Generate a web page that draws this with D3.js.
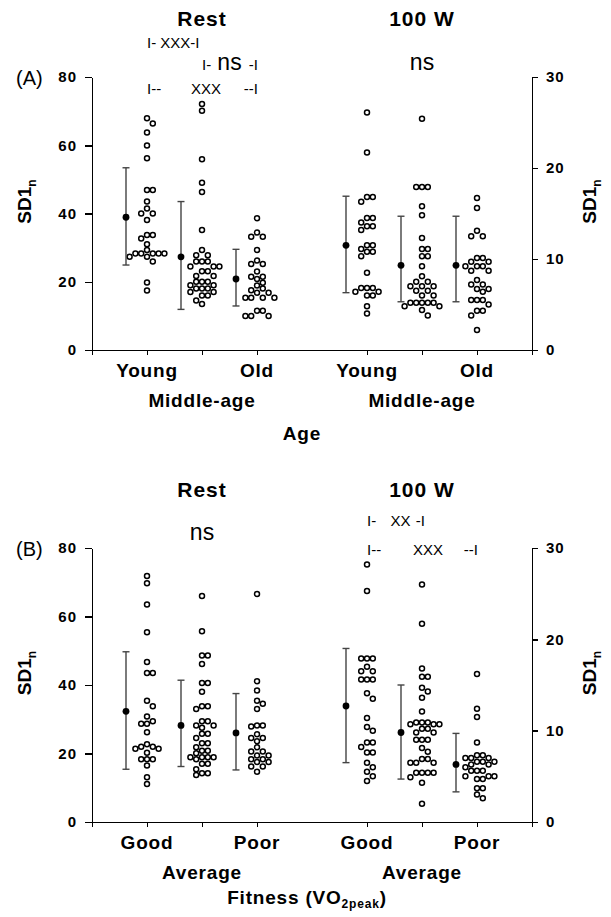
<!DOCTYPE html>
<html lang="en">
<head>
<meta charset="UTF-8">
<title>SD1n by age and fitness</title>
<style>
  body { margin: 0; background: #fff; }
  svg { display: block; font-family: "Liberation Sans", Arial, sans-serif; }
  .axis path, .axis line { stroke: #000; stroke-width: 1.5px; shape-rendering: crispEdges; }
  .axis text { font-family: "Liberation Sans", Arial, sans-serif; font-weight: bold; font-size: 15px; fill: #000; letter-spacing: 1px; }
  .cat { font-weight: bold; font-size: 19px; letter-spacing: 0.8px; }
  .title { font-weight: bold; font-size: 21px; letter-spacing: 1px; }
  .ylab { font-weight: bold; font-size: 19px; }
  .note { font-size: 15px; }
  .ns { font-size: 23px; }
  .plabel { font-size: 20px; }
  .err { stroke: #444; stroke-width: 1.4px; fill: none; }
</style>
<script src="https://d3js.org/d3.v7.min.js"></script>
</head>
<body>
<svg width="611" height="917"></svg>
<script>
// ---- data (SD1n values) ----
const ageCats = ["Young", "Middle-age", "Old"];
const fitCats = ["Good", "Average", "Poor"];
const conditions = ["Rest", "100 W"];
const leftTicks = [0, 20, 40, 60, 80];
const rightTicks = [0, 10, 20, 30];

// (A) age groups, rest (left axis)
const youngRest = [67.9, 66.4, 63.7, 59.9, 56.2, 46.9, 46.9, 43.5, 41.5, 40, 40, 38.1, 33.7, 33.7, 32.7, 31, 29.3, 28.3, 28.3, 28.3, 28.3, 28.3, 27.3, 27.3, 25.9, 19.8, 17.4];
const middleRest = [72.1, 70.1, 55.9, 49.0, 46.3, 35.2, 29.3, 27.8, 27.8, 25.9, 25.9, 25.9, 24.5, 24.5, 24.5, 23.1, 23.1, 21.7, 21.7, 20, 20, 20, 19, 19, 18, 18, 18, 17, 17, 16, 16, 14.5, 13.5];
const oldRest = [38.6, 34.4, 33.2, 33.2, 29.3, 26.2, 25.2, 25.2, 23, 21.5, 21.5, 20.8, 19.7, 18.9, 18, 17.5, 16.8, 16.8, 15.3, 15.3, 15.3, 15.3, 11.5, 11.5, 10, 10, 10];
// (A) age groups, 100 W (right axis)
const young100 = [26.1, 21.7, 16.8, 16.8, 16.3, 14.5, 14.5, 14.0, 13.6, 13.6, 13.2, 11.5, 11.5, 11.1, 10.8, 10.8, 10.3, 8.5, 6.8, 6.8, 6.8, 6.4, 6.4, 6.0, 6.0, 4.8, 4.0];
const middle100 = [25.4, 17.9, 17.9, 17.9, 15.8, 14.8, 12.3, 11.1, 11.1, 10.3, 10.3, 9.2, 8.1, 7.5, 7.5, 7.0, 7.0, 7.0, 6.5, 6.5, 6.0, 6.0, 5.2, 5.2, 5.2, 5.2, 5.2, 4.8, 4.8, 4.4, 3.8];
const old100 = [16.7, 15.6, 13.1, 12.5, 12.5, 10.1, 10.1, 9.7, 9.7, 9.2, 9.2, 9.2, 8.7, 8.7, 7.7, 7.2, 7.2, 6.7, 6.7, 6.4, 5.5, 5.5, 5.5, 5.0, 4.3, 4.3, 3.8, 2.2];

// (B) fitness groups, rest
const goodRest = [71.8, 69.7, 63.5, 55.4, 46.7, 43.5, 43.5, 35.4, 33.8, 30.8, 29.4, 28.7, 28.7, 26.2, 22.7, 22.0, 22.0, 21.4, 21.4, 20.2, 18.3, 18.3, 18.3, 16.5, 13.1, 11.1];
const avgRest = [66, 55.7, 48.6, 48.6, 46.1, 40.6, 40.6, 38, 33.8, 33.8, 33.0, 29.4, 29.4, 28.2, 28.2, 27.5, 25.8, 25.8, 24.5, 23, 23, 21.8, 20.8, 20.8, 20.1, 18.9, 18.9, 18.9, 18.9, 18.3, 17, 17, 15.4, 14.2, 14.2, 13.7];
const poorRest = [66.6, 41.1, 38.4, 35.4, 34.5, 33.0, 28.2, 28.2, 27.9, 25.6, 24.5, 24.5, 23.6, 21.8, 20.6, 20.6, 19.4, 19.4, 18.3, 18.3, 17.5, 17.5, 16.2, 16.2, 14.7];
// (B) fitness groups, 100 W
const good100 = [28.2, 25.3, 17.9, 17.9, 17.9, 17.0, 16.5, 16.5, 15.6, 15.6, 15.6, 14.1, 13.5, 11.4, 10.4, 10.0, 8.7, 8.7, 8.2, 7.6, 7.6, 6.5, 6.0, 5.5, 5.0, 4.5];
const avg100 = [26.0, 21.7, 16.8, 15.9, 15.9, 14.7, 14.3, 13.6, 12.1, 10.9, 10.9, 10.9, 10.7, 10.7, 10.7, 10.2, 10.2, 9.8, 9.8, 9.0, 9.0, 9.0, 8.1, 7.7, 6.9, 6.9, 6.5, 6.5, 6.5, 5.4, 5.4, 5.4, 5.4, 4.9, 4.3, 2.0];
const poor100 = [16.2, 12.4, 11.5, 8.7, 7.3, 7.3, 7.0, 7.0, 7.0, 6.6, 6.6, 6.6, 6.3, 6.3, 6.0, 5.6, 5.6, 5.6, 5.0, 5.0, 5.0, 4.7, 4.7, 3.7, 3.7, 3.0, 2.6];

// group means with SD bars (low / high ends)
const restMeanA = [38.9, 27.3, 20.8], restLowA = [24.9, 11.9, 12.9], restHighA = [53.4, 43.5, 29.5];
const workMeanA = [11.5, 9.3, 9.3], workLowA = [6.3, 5.3, 5.3], workHighA = [16.9, 14.7, 14.7];
const restMeanB = [32.3, 28.2, 26.0], restLowB = [15.4, 16.2, 15.2], restHighB = [49.7, 41.4, 37.5];
const workMeanB = [12.7, 9.8, 6.3], workLowB = [6.5, 4.7, 3.3], workHighB = [19.0, 15.0, 9.7];

// ---- layout ----
const svg = d3.select("svg");
const x = d3.scaleLinear().domain([0, 8]).range([92, 532]);
const restSlots = [1, 2, 3], workSlots = [5, 6, 7];
const meanShift = -21;   // px, mean +/- SD sits left of the dots
const dotStep = 5.8;

function swarm(values, y) {
    const pts = values.map(v => ({v: v, y: y(v)})).sort((a, b) => a.y - b.y);
    const placed = [];
    pts.forEach(p => {
        for (let k = 0; ; k++) {
            const off = (k === 0 ? 0 : (k % 2 ? Math.ceil(k / 2) : -k / 2)) * dotStep;
            if (placed.every(q => (q.dx - off) ** 2 + (q.y - p.y) ** 2 >= dotStep * dotStep * 0.92)) {
                p.dx = off; placed.push(p); break;
            }
        }
    });
    return pts;
}

function drawGroups(g, slots, groups, y, mean, low, high) {
    groups.forEach((vals, i) => {
        const cx = x(slots[i]);
        g.selectAll(null).data(swarm(vals, y)).enter().append("circle")
            .attr("cx", d => cx + d.dx).attr("cy", d => d.y).attr("r", 2.5)
            .attr("fill", "#fff").attr("stroke", "#000").attr("stroke-width", 1.5);
        const mx = cx + meanShift;
        g.append("line").attr("class", "err").attr("x1", mx).attr("x2", mx).attr("y1", y(low[i])).attr("y2", y(high[i]));
        [low[i], high[i]].forEach(v => g.append("line").attr("class", "err")
            .attr("x1", mx - 3.5).attr("x2", mx + 3.5).attr("y1", y(v)).attr("y2", y(v)));
        g.append("circle").attr("cx", mx).attr("cy", y(mean[i])).attr("r", 3.4).attr("fill", "#000");
    });
}

function sdLabel(g, px, py) {
    const t = g.append("text").attr("class", "ylab").attr("text-anchor", "middle")
        .attr("transform", `translate(${px},${py}) rotate(-90)`);
    t.append("tspan").text("SD1");
    t.append("tspan").attr("font-size", 12).attr("dy", 5).text("n");
}

function drawPanel(p) {
    const g = svg.append("g");
    const yL = d3.scaleLinear().domain([0, 80]).range([p.bottom, p.top]);
    const yR = d3.scaleLinear().domain([0, 30]).range([p.bottom, p.top]);

    g.append("g").attr("class", "axis").attr("transform", `translate(0,${p.bottom})`)
        .call(d3.axisBottom(x).tickValues([0, 1, 2, 3, 5, 6, 7, 8]).tickSize(5).tickSizeOuter(0).tickFormat(""));
    g.append("g").attr("class", "axis").attr("transform", `translate(${x(0)},0)`)
        .call(d3.axisLeft(yL).tickValues(leftTicks).tickSize(7).tickPadding(8).tickSizeOuter(0));
    g.append("g").attr("class", "axis").attr("transform", `translate(${x(8)},0)`)
        .call(d3.axisRight(yR).tickValues(rightTicks).tickSize(6).tickPadding(8).tickSizeOuter(0));

    drawGroups(g, restSlots, p.rest, yL, p.restMean, p.restLow, p.restHigh);
    drawGroups(g, workSlots, p.work, yR, p.workMean, p.workLow, p.workHigh);

    // condition titles
    [restSlots, workSlots].forEach((s, i) => g.append("text").attr("class", "title")
        .attr("x", x(s[1])).attr("y", p.top - 51).attr("text-anchor", "middle").text(conditions[i]));

    g.append("text").attr("class", "plabel").attr("x", 16).attr("y", p.top + 8).text(p.label);

    // category labels: outer groups on first row, middle group below
    [restSlots, workSlots].forEach(s => {
        s.forEach((slot, j) => g.append("text").attr("class", "cat")
            .attr("x", x(slot)).attr("y", p.bottom + (j === 1 ? 57 : 27))
            .attr("text-anchor", "middle").text(p.cats[j]));
    });

    sdLabel(g, 31, (p.top + p.bottom) / 2 - 12);
    sdLabel(g, 596, (p.top + p.bottom) / 2 - 12);

    p.extra(g, yL);
}

function noteRow(g, y, parts) {
    parts.forEach(pt => g.append("text").attr("class", pt.cls || "note")
        .attr("x", pt.x).attr("y", y).attr("text-anchor", pt.anchor || "start").text(pt.t));
}

drawPanel({
    top: 77, bottom: 350, label: "(A)", cats: ageCats,
    rest: [youngRest, middleRest, oldRest], work: [young100, middle100, old100],
    restMean: restMeanA, restLow: restLowA, restHigh: restHighA,
    workMean: workMeanA, workLow: workLowA, workHigh: workHighA,
    extra: g => {
        noteRow(g, 48, [{x: x(1), t: "I- XXX-I"}]);
        noteRow(g, 70, [{x: x(2), t: "I-"}, {x: (x(2) + x(3)) / 2, t: "ns", cls: "ns", anchor: "middle"}, {x: x(3) + 1, t: "-I", anchor: "end"}]);
        noteRow(g, 94, [{x: x(1), t: "I--"}, {x: (x(1) + x(3)) / 2 + 4, t: "XXX", anchor: "middle"}, {x: x(3) + 1, t: "--I", anchor: "end"}]);
        noteRow(g, 70, [{x: x(6), t: "ns", cls: "ns", anchor: "middle"}]);
        g.append("text").attr("class", "cat").attr("x", 302).attr("y", 440).attr("text-anchor", "middle").text("Age");
    }
});

drawPanel({
    top: 548, bottom: 822, label: "(B)", cats: fitCats,
    rest: [goodRest, avgRest, poorRest], work: [good100, avg100, poor100],
    restMean: restMeanB, restLow: restLowB, restHigh: restHighB,
    workMean: workMeanB, workLow: workLowB, workHigh: workHighB,
    extra: g => {
        noteRow(g, 540, [{x: x(2), t: "ns", cls: "ns", anchor: "middle"}]);
        noteRow(g, 526, [{x: x(5), t: "I-"}, {x: (x(5) + x(6)) / 2 + 6, t: "XX", anchor: "middle"}, {x: x(6) + 3, t: "-I", anchor: "end"}]);
        noteRow(g, 555, [{x: x(5), t: "I--"}, {x: x(6) + 6, t: "XXX", anchor: "middle"}, {x: x(7) + 1, t: "--I", anchor: "end"}]);
        const t = g.append("text").attr("class", "cat").attr("x", 307).attr("y", 904).attr("text-anchor", "middle");
        t.append("tspan").text("Fitness (VO");
        t.append("tspan").attr("font-size", 12).attr("dy", 4).text("2peak");
        t.append("tspan").attr("dy", -4).text(")");
    }
});
</script>
</body>
</html>
